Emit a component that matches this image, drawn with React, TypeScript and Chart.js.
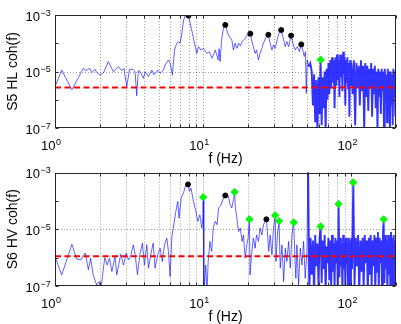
import React, { useEffect, useRef } from "react";
import { Chart, registerables } from "chart.js";

Chart.register(...registerables);

// ---------- DATA ----------
// S5 HL coherence: frequency (Hz) and log10 of coherence
const hlFreq = [
  1.0, 1.11, 1.3, 1.55, 1.62, 1.71, 1.77, 1.86, 1.91, 2.01,
  2.12, 2.29, 2.48, 2.68, 2.82, 2.92, 3.05, 3.18, 3.35, 3.47,
  3.56, 3.65, 3.75, 3.95, 4.06, 4.27, 4.5, 4.65, 4.94, 5.12,
  5.39, 5.53, 5.83, 5.98, 6.2, 6.4, 6.63, 6.82, 6.99, 7.18,
  7.37, 7.56, 7.8, 7.96, 8.16, 8.46, 8.73, 9.06, 9.29, 9.67,
  10.05, 10.6, 10.97, 11.5, 12.07, 12.6, 12.8, 13.0, 13.3, 13.7,
  14.1, 14.8, 15.6, 16.0, 16.4, 16.9, 17.3, 17.8, 18.3, 19.2,
  20.2, 20.8, 21.2, 21.8, 22.4, 22.9, 23.6, 24.2, 24.9, 25.5,
  26.6, 27.5, 28.3, 29.1, 29.8, 30.6, 31.7, 32.7, 33.6, 34.9,
  35.8, 36.7, 37.7, 39.2, 40.3, 41.8, 43.2, 44.6, 45.9, 47.0,
  48.0, 49.0, 49.6, 50.4, 51.5, 52.8,
  54, 55, 56, 57, 58, 59, 60, 61, 62, 63,
  64, 65, 66, 67, 68, 69, 70, 71, 72, 73,
  74, 75, 76, 77, 78, 79, 80, 81, 82, 83,
  84, 85, 86, 87, 88, 89, 90, 91, 92, 93,
  94, 95, 96, 97, 98, 99, 100,
  102, 104, 106, 108, 110, 112, 114, 116, 118, 120,
  122, 124, 126, 128, 130, 132, 134, 136, 138, 140,
  142, 144, 146, 148, 150, 152, 154, 156, 158, 160,
  162, 164, 166, 168, 170, 172, 174, 176, 178, 180,
  182, 184, 186, 188, 190, 192, 194, 196, 198, 200,
];
const hlLogCoh = [
  -5.54, -4.95, -5.65, -4.89, -4.97, -4.89, -5.04, -4.92, -5.03, -5.12,
  -5.06, -4.65, -5.01, -4.83, -4.97, -4.89, -5.54, -4.92, -4.92, -5.01,
  -5.86, -4.97, -5.0, -5.24, -5.0, -5.18, -4.95, -5.12, -4.95, -5.06,
  -4.95, -4.77, -4.59, -4.71, -5.12, -4.24, -4.0, -3.94, -4.0, -3.65,
  -3.18, -3.03, -3.01, -3.02, -3.29, -3.65, -4.0, -4.36, -4.12, -4.24,
  -4.18, -4.36, -4.3, -4.53, -4.24, -4.59, -4.2, -4.65, -3.9, -3.45,
  -3.35, -3.71, -3.88, -4.24, -4.0, -4.18, -4.0, -4.1, -3.94, -3.83,
  -3.65, -3.66, -3.88, -4.12, -4.36, -4.24, -4.59, -4.36, -4.18, -4.0,
  -3.77, -3.7, -4.0, -4.24, -4.06, -4.18, -3.83, -3.59, -3.53, -3.88,
  -4.12, -3.94, -4.12, -3.73, -4.0, -4.24, -4.12, -4.3, -4.04, -4.24,
  -4.47, -4.3, -5.77, -4.59, -4.83, -4.71,
  -5.0, -6.2, -5.1, -6.8, -5.3, -7.2, -5.2, -6.5, -4.58, -6.9,
  -5.2, -6.3, -5.0, -7.2, -4.9, -6.0, -4.7, -5.8, -4.6, -5.6,
  -4.5, -5.4, -4.6, -6.3, -4.5, -5.5, -4.4, -5.3, -4.6, -5.9,
  -4.4, -5.2, -4.5, -5.7, -4.3, -5.1, -4.5, -6.2, -4.6, -5.4,
  -4.5, -5.6, -4.7, -6.6, -4.6, -5.5, -4.7,
  -5.8, -4.6, -6.9, -4.7, -5.6, -4.8, -6.2, -4.6, -5.7, -4.8,
  -7.1, -4.7, -5.9, -4.8, -6.4, -4.9, -5.6, -4.7, -6.6, -4.9,
  -5.8, -4.8, -6.3, -5.0, -7.1, -4.9, -5.9, -5.0, -6.5, -4.9,
  -5.7, -5.0, -7.1, -4.9, -6.0, -5.1, -6.8, -4.9, -5.8, -5.0,
  -7.1, -5.0, -6.2, -5.1, -6.9, -4.9, -5.9, -5.0, -6.6, -5.0,
];

// S6 HV coherence
const hvFreq = [
  1.0, 1.11, 1.3, 1.4, 1.49, 1.6, 1.68, 1.74, 1.81, 1.91,
  1.99, 2.03, 2.12, 2.17, 2.25, 2.33, 2.42, 2.54, 2.61, 2.78,
  2.9, 3.02, 3.13, 3.24, 3.38, 3.47, 3.6, 3.75, 3.89, 4.01,
  4.16, 4.27, 4.45, 4.6, 4.73, 4.94, 5.12, 5.3, 5.48, 5.68,
  5.83, 5.98, 6.15, 6.28, 6.54, 6.74, 6.87, 7.1, 7.37, 7.56,
  7.9, 8.08, 8.27, 8.6, 8.93, 9.2, 9.5, 9.78, 9.95, 10.0,
  10.1, 10.4, 10.6, 10.8, 11.1, 11.4, 11.7, 12.07, 12.4, 12.7,
  13.2, 13.7, 14.1, 14.8, 15.2, 15.6, 16.0, 16.3, 16.5, 16.9,
  17.3, 17.8, 18.3, 18.7, 19.2, 19.7, 20.1, 20.5, 20.7, 21.2,
  21.8, 22.4, 22.9, 23.6, 24.2, 24.9, 25.5, 26.2, 26.7, 27.1,
  27.7, 28.3, 29.1, 29.8, 30.6, 31.0, 31.7, 32.5, 33.1, 34.0,
  34.9, 35.8, 36.7, 37.7, 38.7, 39.7, 40.8, 41.5, 42.2, 42.9,
  44.0, 45.2, 46.4, 47.6, 48.8, 50.1, 51.0,
  52, 53, 54, 55, 56, 57, 58, 59, 60, 61,
  62, 63, 64, 65, 66, 67, 68, 69, 70, 71,
  72, 73, 74, 75, 76, 77, 78, 79, 80, 81,
  82, 83, 84, 85, 86, 87, 88, 89, 90, 91,
  92, 93, 94, 95, 96, 97, 98, 99, 100,
  101, 103, 105, 107, 109, 111, 113, 115, 117, 119,
  121, 123, 125, 127, 129, 131, 133, 135, 137, 139,
  141, 143, 145, 147, 149, 151, 153, 155, 157, 159,
  161, 163, 165, 167, 169, 171, 173, 175, 177, 179,
  181, 183, 185, 187, 189, 191, 193, 195, 197, 199,
];
const hvLogCoh = [
  -5.96, -6.61, -5.53, -6.05, -6.08, -5.84, -6.43, -6.02, -6.61, -6.96,
  -6.84, -7.2, -6.37, -6.0, -6.26, -6.02, -6.49, -5.96, -6.61, -5.88,
  -6.26, -5.84, -6.08, -5.93, -5.55, -5.88, -6.6, -5.85, -5.49, -6.26,
  -5.55, -6.37, -5.84, -5.49, -6.37, -5.9, -5.67, -6.14, -5.55, -5.31,
  -5.78, -6.67, -5.25, -4.96, -4.37, -4.02, -4.61, -3.9, -3.72, -3.49,
  -3.42, -3.66, -3.55, -4.02, -4.37, -4.72, -4.49, -4.96, -4.61, -3.87,
  -7.3, -6.26, -7.3, -6.14, -5.43, -5.78, -4.96, -4.72, -4.84, -4.25,
  -4.14, -3.9, -3.81, -3.84, -4.14, -4.25, -3.96, -3.69, -4.25, -4.61,
  -5.08, -4.96, -5.43, -5.2, -6.02, -5.55, -5.3, -4.65, -6.61, -5.9,
  -5.31, -5.67, -5.2, -5.43, -4.96, -5.2, -4.84, -4.72, -4.65, -5.08,
  -5.78, -5.2, -5.9, -4.96, -4.51, -6.14, -5.2, -4.71, -6.37, -5.55,
  -6.84, -5.67, -6.14, -5.43, -6.37, -5.2, -4.76, -5.9, -6.73, -5.55,
  -6.96, -5.67, -6.26, -5.43, -6.73, -5.78, -2.5,
  -7.3, -5.3, -6.6, -5.4, -7.3, -5.2, -6.3, -5.5, -7.0, -5.3,
  -4.9, -6.9, -5.4, -6.4, -5.2, -7.3, -5.6, -6.2, -5.3, -6.8,
  -5.4, -7.3, -5.2, -6.5, -5.5, -7.1, -5.3, -6.2, -5.4, -7.3,
  -4.11, -6.7, -5.3, -6.3, -5.5, -7.3, -5.2, -6.4, -5.4, -7.0,
  -5.3, -6.2, -5.5, -7.3, -5.3, -6.6, -5.4, -7.2, -5.3,
  -6.4, -3.35, -7.0, -5.3, -6.3, -5.2, -7.3, -5.4, -6.5, -5.3,
  -7.1, -5.2, -6.2, -5.4, -7.3, -5.3, -6.6, -5.2, -7.0, -5.4,
  -6.3, -5.2, -7.3, -5.3, -6.5, -5.1, -7.1, -5.3, -6.2, -5.4,
  -7.3, -5.3, -4.65, -6.9, -5.2, -6.4, -5.4, -7.3, -5.2, -6.6,
  -5.3, -7.0, -5.1, -6.3, -5.3, -7.3, -5.2, -6.5, -5.4, -7.1,
];

// black dots (peaks) and green diamonds (lines)
const hlPeakFreq = [7.96, 14.1, 20.8, 27.5, 33.6, 39.2, 45.9];
const hlPeakLog = [-3.02, -3.35, -3.66, -3.7, -3.53, -3.73, -4.04];
const hlLineFreq = [62];
const hlLineLog = [-4.58];
const hvPeakFreq = [7.9, 14.1, 26.7];
const hvPeakLog = [-3.42, -3.81, -4.65];
const hvLineFreq = [10.0, 16.3, 20.5, 30.6, 32.5, 40.8, 62, 82, 103, 165];
const hvLineLog = [-3.87, -3.69, -4.65, -4.51, -4.71, -4.76, -4.9, -4.11, -3.35, -4.65];

// red dashed thresholds
const hlThreshold = 2.7e-6;
const hvThreshold = 1.12e-6;

// frequency above which the spectrum is a dense noise band
const denseFrom = 50.5;

// axes
const xMin = 1;
const xMax = 200;
const yMin = 1e-7;
const yMax = 1e-3;
const xGridValues = [2, 3, 4, 5, 6, 7, 8, 9, 10, 20, 30, 40, 50, 60, 70, 80, 90, 100];
const xTickValues = [1, 2, 3, 4, 5, 6, 7, 8, 9, 10, 20, 30, 40, 50, 60, 70, 80, 90, 100, 200];
const xLabelExps = [0, 1, 2];
const yLabelExps = [-7, -5, -3];
const yGridExps = [-5];
const yTickExps = [-7, -6, -5, -4, -3];

const FONT = '"Liberation Sans", Arial, Helvetica, sans-serif';

function toPoints(fs: number[], logs: number[]) {
  return fs.map((f, i) => ({ x: f, y: Math.pow(10, logs[i]) }));
}

function makeAxesPlugin(yTitle: string) {
  return {
    id: "matlabAxes",
    beforeDatasetsDraw(chart: any) {
      const { ctx, chartArea: a, scales } = chart;
      const xs = scales.x;
      const ys = scales.y;
      ctx.save();
      ctx.strokeStyle = "rgba(0,0,0,0.38)";
      ctx.lineWidth = 1;
      ctx.setLineDash([1, 2]);
      for (const v of xGridValues) {
        const px = Math.round(xs.getPixelForValue(v)) + 0.5;
        ctx.beginPath();
        ctx.moveTo(px, a.top);
        ctx.lineTo(px, a.bottom);
        ctx.stroke();
      }
      for (const e of yGridExps) {
        const py = Math.round(ys.getPixelForValue(Math.pow(10, e))) + 0.5;
        ctx.beginPath();
        ctx.moveTo(a.left, py);
        ctx.lineTo(a.right, py);
        ctx.stroke();
      }
      ctx.restore();
    },
    afterDraw(chart: any) {
      const { ctx, chartArea: a, scales } = chart;
      const xs = scales.x;
      const ys = scales.y;
      ctx.save();
      ctx.setLineDash([]);
      ctx.strokeStyle = "#262626";
      ctx.lineWidth = 1;
      const L = Math.round(a.left) + 0.5;
      const R = Math.round(a.right) - 0.5;
      const T = Math.round(a.top) + 0.5;
      const B = Math.round(a.bottom) - 0.5;
      ctx.strokeRect(L, T, R - L, B - T);
      ctx.beginPath();
      for (const v of xTickValues) {
        const px = Math.round(xs.getPixelForValue(v)) + 0.5;
        ctx.moveTo(px, B);
        ctx.lineTo(px, B - 3);
        ctx.moveTo(px, T);
        ctx.lineTo(px, T + 3);
      }
      for (const e of yTickExps) {
        const py = Math.round(ys.getPixelForValue(Math.pow(10, e))) + 0.5;
        ctx.moveTo(L, py);
        ctx.lineTo(L + 3, py);
        ctx.moveTo(R, py);
        ctx.lineTo(R - 3, py);
      }
      ctx.stroke();

      ctx.fillStyle = "#000";
      for (const e of xLabelExps) {
        const px = xs.getPixelForValue(Math.pow(10, e));
        ctx.font = `13px ${FONT}`;
        ctx.textAlign = "right";
        ctx.textBaseline = "alphabetic";
        ctx.fillText("10", px + 0.5, a.bottom + 22);
        ctx.font = `9px ${FONT}`;
        ctx.textAlign = "left";
        ctx.fillText(String(e), px + 1, a.bottom + 16.5);
      }
      for (const e of yLabelExps) {
        const py = ys.getPixelForValue(Math.pow(10, e));
        ctx.font = `13px ${FONT}`;
        ctx.textAlign = "right";
        ctx.textBaseline = "alphabetic";
        ctx.fillText("10", a.left - 15, py + 5.5);
        ctx.font = `9px ${FONT}`;
        ctx.textAlign = "left";
        ctx.fillText("\u2212" + String(-e), a.left - 14.5, py + 0.5);
      }
      ctx.font = `14px ${FONT}`;
      ctx.textAlign = "center";
      ctx.textBaseline = "middle";
      ctx.fillText("f (Hz)", (a.left + a.right) / 2, a.bottom + 31.5);
      ctx.save();
      ctx.translate(13.5, (a.top + a.bottom) / 2);
      ctx.rotate(-Math.PI / 2);
      ctx.fillText(yTitle, 0, 0);
      ctx.restore();
      ctx.restore();
    },
  };
}

type PanelProps = {
  top: number;
  height: number;
  padTop: number;
  padBottom: number;
  yTitle: string;
  freq: number[];
  logCoh: number[];
  peakFreq: number[];
  peakLog: number[];
  lineFreq: number[];
  lineLog: number[];
  threshold: number;
};

function Panel(p: PanelProps) {
  const ref = useRef<HTMLCanvasElement>(null);
  useEffect(() => {
    if (!ref.current) return;
    const hidden = {
      ticks: { display: false },
      grid: { display: false, drawTicks: false },
      border: { display: false },
    };
    const isDense = (c: any) => c.p0.parsed.x >= denseFrom;
    const chart = new Chart(ref.current, {
      type: "line",
      data: {
        datasets: [
          {
            data: toPoints(p.peakFreq, p.peakLog),
            showLine: false,
            pointStyle: "circle",
            pointRadius: 2.5,
            backgroundColor: "#000",
            borderColor: "#000",
            borderWidth: 1,
            order: 0,
          },
          {
            data: toPoints(p.lineFreq, p.lineLog),
            showLine: false,
            pointStyle: "rectRot",
            pointRadius: 3.6,
            backgroundColor: "#00ff00",
            borderColor: "#00ee00",
            borderWidth: 1,
            order: 0,
          },
          {
            data: [
              { x: xMin, y: p.threshold },
              { x: xMax, y: p.threshold },
            ],
            borderColor: "#ff0000",
            borderWidth: 2,
            borderDash: [6, 3.5],
            pointRadius: 0,
            order: 1,
          },
          {
            data: toPoints(p.freq, p.logCoh),
            borderColor: "rgba(0,0,255,0.62)",
            borderWidth: 1,
            pointRadius: 0,
            tension: 0,
            order: 2,
            segment: {
              borderWidth: (c: any) => (isDense(c) ? 1.9 : 1),
              borderColor: (c: any) => (isDense(c) ? "rgba(0,0,255,0.8)" : "rgba(0,0,255,0.62)"),
            },
          },
        ],
      } as any,
      options: {
        responsive: false,
        animation: false,
        events: [],
        layout: { padding: { left: 55, right: 4, top: p.padTop, bottom: p.padBottom } },
        plugins: { legend: { display: false }, tooltip: { enabled: false } },
        scales: {
          x: { type: "logarithmic", min: xMin, max: xMax, ...hidden },
          y: { type: "logarithmic", min: yMin, max: yMax, ...hidden },
        },
      } as any,
      plugins: [makeAxesPlugin(p.yTitle)],
    });
    return () => chart.destroy();
  }, []);
  return (
    <canvas
      ref={ref}
      width={401}
      height={p.height}
      style={{ position: "absolute", left: 0, top: p.top, width: 401, height: p.height }}
    />
  );
}

export default function App() {
  return (
    <div
      style={{
        position: "fixed",
        left: 0,
        top: 0,
        width: 401,
        height: 324,
        background: "#fff",
        overflow: "hidden",
      }}
    >
      <Panel
        top={0}
        height={168}
        padTop={15}
        padBottom={40}
        yTitle="S5 HL coh(f)"
        freq={hlFreq}
        logCoh={hlLogCoh}
        peakFreq={hlPeakFreq}
        peakLog={hlPeakLog}
        lineFreq={hlLineFreq}
        lineLog={hlLineLog}
        threshold={hlThreshold}
      />
      <Panel
        top={160}
        height={164}
        padTop={12.5}
        padBottom={38}
        yTitle="S6 HV coh(f)"
        freq={hvFreq}
        logCoh={hvLogCoh}
        peakFreq={hvPeakFreq}
        peakLog={hvPeakLog}
        lineFreq={hvLineFreq}
        lineLog={hvLineLog}
        threshold={hvThreshold}
      />
    </div>
  );
}
